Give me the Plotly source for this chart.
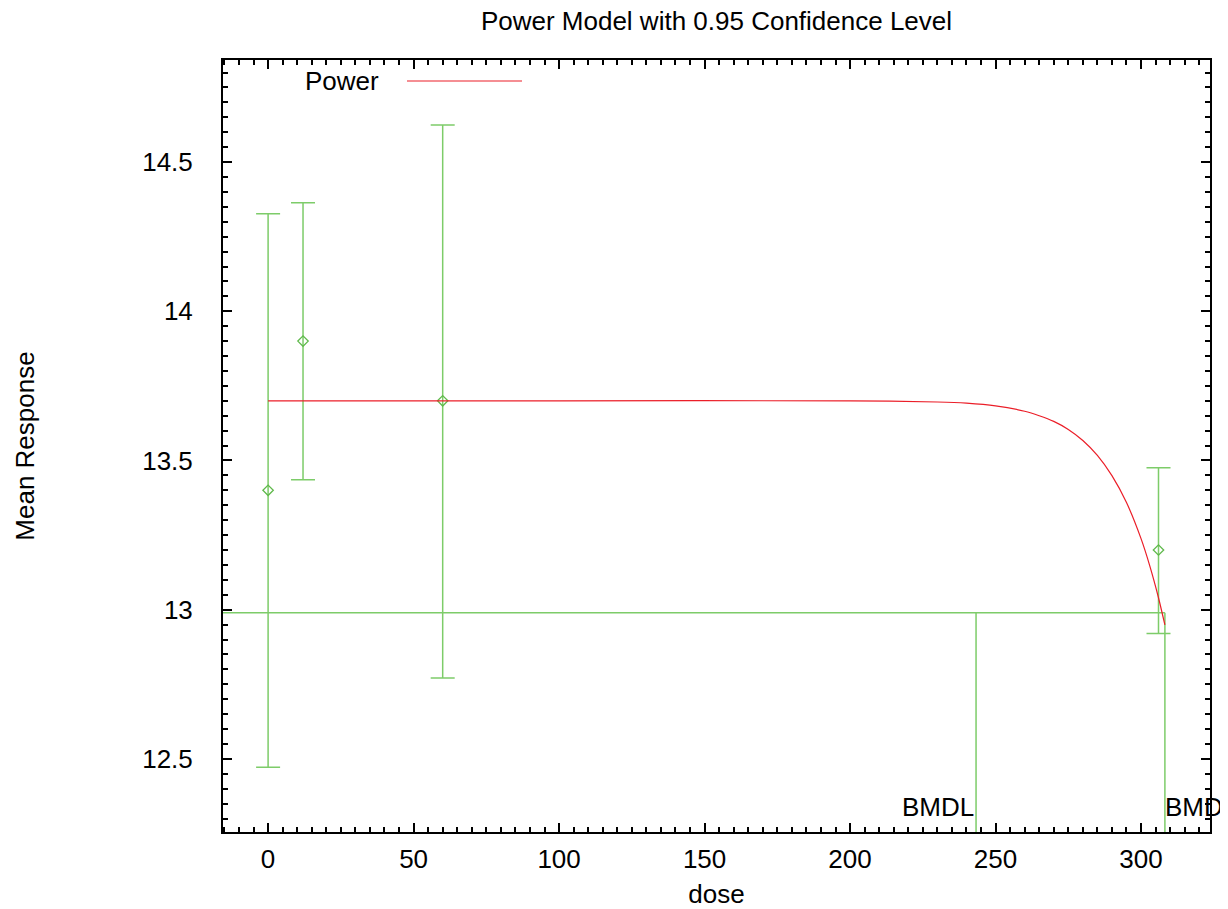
import plotly.graph_objects as go

# ---- data ----
doses = [0, 12, 60, 306]
means = [13.4, 13.9, 13.7, 13.2]
err_plus = [0.927, 0.464, 0.924, 0.276]
err_minus = [0.928, 0.465, 0.929, 0.280]

curve_dose = [0, 100, 200, 230, 240, 250, 260, 265, 270, 275, 280, 285, 290, 295, 300, 303, 306, 308.2]
curve_resp = [13.7, 13.7, 13.7, 13.696, 13.692, 13.683, 13.665, 13.650, 13.631, 13.604, 13.567,
              13.517, 13.449, 13.359, 13.238, 13.147, 13.040, 12.949]

bmr_level = 12.99
bmd = 308.2
bmdl = 243.3

x_range = [-15.5, 323.7]
y_range = [12.255, 14.842]

x_ticks = [0, 50, 100, 150, 200, 250, 300]
y_ticks = [12.5, 13, 13.5, 14, 14.5]
y_ticklabels = ["12.5", "13", "13.5", "14", "14.5"]

title_text = "Power Model with 0.95 Confidence Level"
legend_label = "Power"

FONT = "Liberation Sans, Arial, sans-serif"
FS = 26
GREEN = "rgb(125,204,105)"
GREEN_DARK = "rgb(95,185,75)"
RED = "rgb(235,30,40)"

# page body has an 8px margin -> figure origin at (8, 8)
OFF = 8
W, H = 1228 - OFF, 909 - OFF
PL, PR, PT, PB = 223, 1210, 60, 832  # plot frame in page pixels

fig = go.Figure()

# BMR / BMD / BMDL lines
fig.add_trace(go.Scatter(x=[x_range[0], bmd], y=[bmr_level, bmr_level], mode="lines",
                         line=dict(color=GREEN, width=1.5), showlegend=False, hoverinfo="skip"))
fig.add_trace(go.Scatter(x=[bmdl, bmdl], y=[bmr_level, y_range[0]], mode="lines",
                         line=dict(color=GREEN, width=1.5), showlegend=False, hoverinfo="skip"))
fig.add_trace(go.Scatter(x=[bmd, bmd], y=[bmr_level, y_range[0]], mode="lines",
                         line=dict(color=GREEN, width=1.5), showlegend=False, hoverinfo="skip"))

# data with error bars
fig.add_trace(go.Scatter(
    x=doses, y=means, mode="markers",
    marker=dict(symbol="diamond-open", size=8, color=GREEN_DARK, line=dict(width=1.3)),
    error_y=dict(type="data", symmetric=False, array=err_plus, arrayminus=err_minus,
                 color=GREEN, thickness=1.5, width=12),
    showlegend=False))

# fitted curve
fig.add_trace(go.Scatter(x=curve_dose, y=curve_resp, mode="lines",
                         line=dict(color=RED, width=1.2, shape="spline", smoothing=0.6),
                         name=legend_label, showlegend=False))

axis_common = dict(
    showline=True, linecolor="black", linewidth=2, mirror="allticks",
    ticks="inside", ticklen=9, tickwidth=1.5, tickcolor="black",
    showgrid=False, zeroline=False,
    tickfont=dict(family=FONT, size=FS, color="black"),
)

fig.update_xaxes(range=x_range, tickvals=x_ticks,
                 minor=dict(dtick=5, tick0=0, ticks="inside", ticklen=5, tickwidth=1.5, tickcolor="black", showgrid=False),
                 title=dict(text="dose", font=dict(family=FONT, size=FS, color="black"), standoff=16),
                 ticklabelstandoff=3,
                 **axis_common)
fig.update_yaxes(range=y_range, tickvals=y_ticks, ticktext=y_ticklabels,
                 minor=dict(dtick=0.05, tick0=12.5, ticks="inside", ticklen=5, tickwidth=1.5, tickcolor="black", showgrid=False),
                 title=dict(text="Mean Response", font=dict(family=FONT, size=FS, color="black"), standoff=100),
                 ticklabelstandoff=23,
                 **axis_common)

# BMD labels
fig.add_annotation(x=bmdl, y=y_range[0], xref="x", yref="y", text="BMDL", showarrow=False,
                   xanchor="right", yanchor="bottom", yshift=8, xshift=0,
                   font=dict(family=FONT, size=FS, color="black"))
fig.add_annotation(x=bmd, y=y_range[0], xref="x", yref="y", text="BMD", showarrow=False,
                   xanchor="left", yanchor="bottom", yshift=8, xshift=-2,
                   font=dict(family=FONT, size=FS, color="black"))

# manual legend
leg_y = 1 - (81 - PT) / (PB - PT)
fig.add_annotation(xref="x domain", yref="y domain",
                   x=(381 - PL) / (PR - PL), y=leg_y, text=legend_label, showarrow=False,
                   xanchor="right", yanchor="middle",
                   font=dict(family=FONT, size=FS, color="black"))
fig.add_shape(type="line", xref="x domain", yref="y domain",
              x0=(407 - PL) / (PR - PL), x1=(522 - PL) / (PR - PL),
              y0=leg_y, y1=leg_y, line=dict(color=RED, width=1.2))

fig.update_layout(
    width=W, height=H,
    margin=dict(l=PL - OFF, r=OFF + W - PR, t=PT - OFF, b=OFF + H - PB, autoexpand=False),
    paper_bgcolor="white", plot_bgcolor="white",
    title=dict(text=title_text, x=0.5, xref="paper", y=1 - 13 / H, yref="container",
               xanchor="center", yanchor="middle",
               font=dict(family=FONT, size=FS, color="black")),
    showlegend=False,
)

fig.write_html("out.html")
